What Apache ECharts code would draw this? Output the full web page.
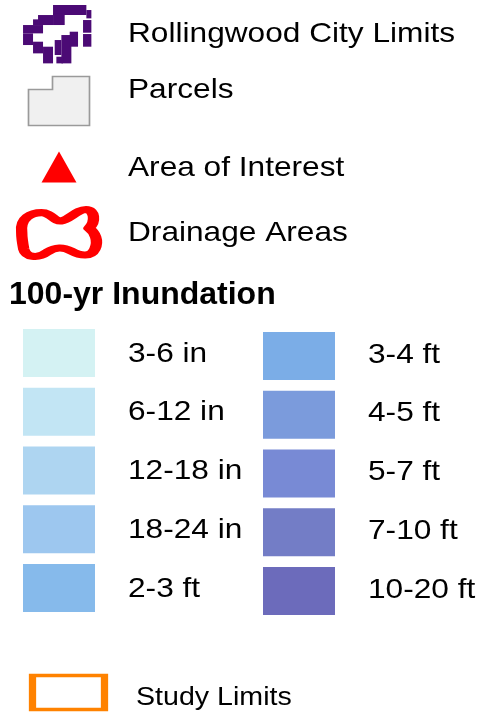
<!DOCTYPE html>
<html>
<head>
<meta charset="utf-8">
<script src="https://cdn.jsdelivr.net/npm/echarts@6/dist/echarts.min.js"></script>
<style>
html,body{margin:0;padding:0;background:#fff;}
#chart{width:491px;height:719px;}
</style>
</head>
<body>
<div id="chart"></div>
<script>
// ---- data ----
const topLabels = ['Rollingwood City Limits', 'Parcels', 'Area of Interest', 'Drainage Areas'];
const headingText = '100-yr Inundation';
const inundationLabels = ['3-6 in', '6-12 in', '12-18 in', '18-24 in', '2-3 ft',
                          '3-4 ft', '4-5 ft', '5-7 ft', '7-10 ft', '10-20 ft'];
const inundationColors = ['#d4f2f3', '#c2e5f4', '#aed5f1', '#9dc7ef', '#86baeb',
                          '#7badE7', '#7b9bdc', '#788ad5', '#737dc6', '#6c6bbb'];
const studyLabels = ['Study Limits'];

// ---- styles ----
const FONT = "'Liberation Sans', Arial, Helvetica, sans-serif";
// city-limits glyph blocks [x0, y0, x1, y1] in an icon box of 205x175 (drawn at 1/3 scale)
const cityBlocks = [
  [105, 15, 205, 45], [105, 40, 140, 75], [205, 30, 220, 55], [195, 60, 220, 98],
  [195, 102, 220, 140], [60, 45, 105, 75], [45, 58, 62, 75], [15, 75, 75, 100],
  [15, 100, 45, 135], [45, 125, 75, 160], [75, 140, 105, 190], [110, 120, 130, 165],
  [130, 105, 160, 190], [155, 95, 180, 140], [115, 170, 135, 190]
];
const parcelPath = 'path://M52 76H89V125H28V89H52Z';
const drainPath = 'path://M22 232C20 218 32 213 42 213C52 213 55 222 62 221C70 220 78 210 87 210' +
  'C96 210 97 222 90 228C96 232 100 240 96 248C92 256 82 255 72 250C64 246 56 246 48 251' +
  'C38 258 26 256 24 248C23 243 22 238 22 232Z';
const topIconStyles = [
  null,
  { symbol: parcelPath, symbolSize: [61, 49], itemStyle: { color: '#f0f0f0', borderColor: '#9a9a9a', borderWidth: 1.5, opacity: 1 } },
  { symbol: 'triangle', symbolSize: [35, 31], itemStyle: { color: '#ff0000', opacity: 1 } },
  { symbol: drainPath, symbolSize: [75, 47], itemStyle: { color: 'rgba(0,0,0,0)', borderColor: '#ff0000', borderWidth: 9, borderJoin: 'round', opacity: 1 } }
];
const topLabelNudge = [-1, -11, 1, 0];

function textRenderer(labels, dx, dyFn, fontSize, scaleX) {
  return function (params, api) {
    const p = api.coord([api.value(0), api.value(1)]);
    const i = params.dataIndex;
    return {
      type: 'text',
      x: p[0] + dx,
      y: p[1] + dyFn(i),
      scaleX: scaleX,
      style: {
        text: labels[i],
        fontFamily: FONT,
        fontSize: fontSize,
        fill: '#000',
        align: 'left',
        verticalAlign: 'middle'
      }
    };
  };
}

const chart = echarts.init(document.getElementById('chart'), null, { renderer: 'canvas' });

const swatchData = inundationLabels.map((l, i) => {
  const col = Math.floor(i / 5), row = i % 5;
  return { value: [col, row], itemStyle: { color: inundationColors[i], opacity: 1 }, symbolOffset: [0, col * 3] };
});
const swatchLabelData = inundationLabels.map((l, i) => [Math.floor(i / 5), i % 5]);

const option = {
  animation: false,
  backgroundColor: '#ffffff',
  title: {
    text: headingText,
    left: 9,
    top: 279,
    padding: 0,
    textStyle: { fontFamily: FONT, fontSize: 32, fontWeight: 'bold', color: '#000' }
  },
  grid: [
    { left: 23, width: 72, top: 2, height: 264 },
    { left: 59, width: 240, top: 353, height: 235 },
    { left: 30, width: 77, top: 672, height: 41 }
  ],
  xAxis: [
    { gridIndex: 0, type: 'category', data: ['icon'], show: false },
    { gridIndex: 1, type: 'value', min: 0, max: 1, show: false },
    { gridIndex: 2, type: 'category', data: ['icon'], show: false }
  ],
  yAxis: [
    { gridIndex: 0, type: 'category', data: topLabels, inverse: true, show: false },
    { gridIndex: 1, type: 'value', min: 0, max: 4, inverse: true, show: false },
    { gridIndex: 2, type: 'category', data: studyLabels, inverse: true, show: false }
  ],
  series: [
    {
      type: 'custom', xAxisIndex: 0, yAxisIndex: 0, silent: true, clip: false,
      data: [[0, 0]],
      renderItem: function (params, api) {
        const p = api.coord([api.value(0), api.value(1)]);
        return {
          type: 'group',
          x: p[0] - 1.8, y: p[1] - 0.8,
          scaleX: 1 / 3, scaleY: 1 / 3,
          children: cityBlocks.map(b => ({
            type: 'rect',
            shape: { x: b[0] - 117.5, y: b[1] - 102.5, width: b[2] - b[0], height: b[3] - b[1] },
            style: { fill: '#4b0a75' }
          }))
        };
      }
    },
    {
      type: 'scatter', xAxisIndex: 0, yAxisIndex: 0, silent: true,
      data: topLabels.map((l, i) => Object.assign({ value: [0, i] }, topIconStyles[i] || { symbolSize: 0 }))
    },
    {
      type: 'custom', xAxisIndex: 0, yAxisIndex: 0, silent: true, clip: false,
      data: topLabels.map((l, i) => [0, i]),
      renderItem: textRenderer(topLabels, 69, i => topLabelNudge[i], 28, 1.13)
    },
    {
      type: 'scatter', xAxisIndex: 1, yAxisIndex: 1, silent: true,
      symbol: 'rect', symbolSize: [72, 48],
      data: swatchData
    },
    {
      type: 'custom', xAxisIndex: 1, yAxisIndex: 1, silent: true, clip: false,
      data: swatchLabelData,
      renderItem: textRenderer(inundationLabels, 69, i => (i >= 5 ? 2 : 1), 28, 1.13)
    },
    {
      type: 'scatter', xAxisIndex: 2, yAxisIndex: 2, silent: true,
      symbol: 'rect', symbolSize: [72, 34],
      itemStyle: { color: 'rgba(0,0,0,0)', borderColor: '#ff8200', borderWidth: 5, opacity: 1 },
      data: studyLabels.map((l, i) => [0, i])
    },
    {
      type: 'custom', xAxisIndex: 2, yAxisIndex: 2, silent: true, clip: false,
      data: studyLabels.map((l, i) => [0, i]),
      renderItem: textRenderer(studyLabels, 67.5, i => 5.5, 26, 1.1)
    }
  ]
};
chart.setOption(option);
</script>
</body>
</html>
